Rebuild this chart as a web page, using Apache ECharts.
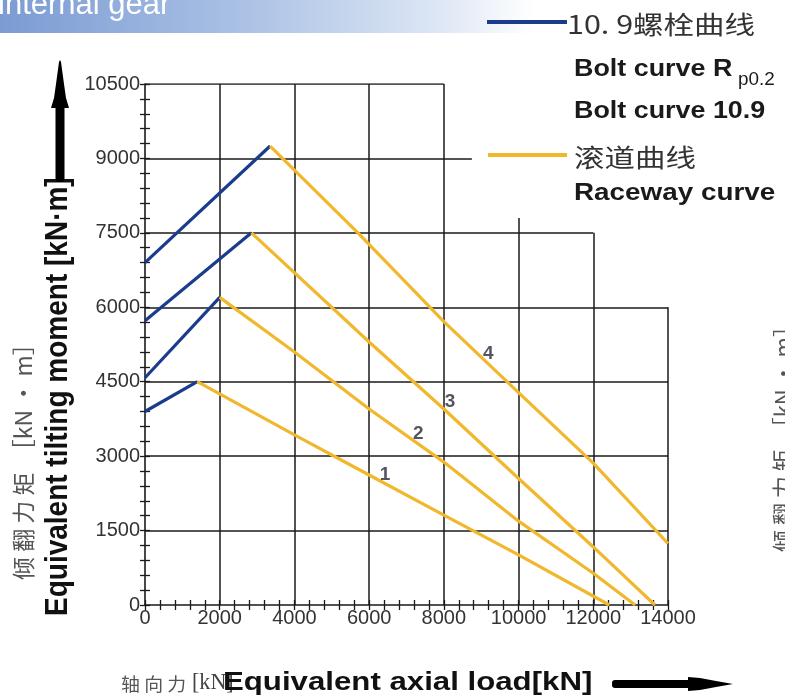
<!DOCTYPE html>
<html><head><meta charset="utf-8">
<script src="https://cdn.jsdelivr.net/npm/echarts@6/dist/echarts.min.js"></script>
<style>html,body{margin:0;padding:0;background:#fff;} #c{width:785px;height:697px;}</style>
</head><body><div id="c"></div>
<script>
// ---- data ----
const boltCurve1 = [[0, 3900], [1400, 4500]];
const boltCurve2 = [[0, 4580], [2000, 6200]];
const boltCurve3 = [[0, 5730], [2850, 7500]];
const boltCurve4 = [[0, 6900], [3350, 9250]];
const racewayCurve1 = [[1400, 4500], [4000, 3430], [6000, 2620], [8000, 1810], [10000, 1010], [12430, 0]];
const racewayCurve2 = [[2000, 6200], [4000, 5100], [6000, 3950], [8000, 2880], [10000, 1690], [12000, 640], [13120, 0]];
const racewayCurve3 = [[2850, 7500], [6000, 5300], [8000, 3950], [10000, 2550], [12000, 1170], [13650, 0]];
const racewayCurve4 = [[3350, 9250], [5700, 7500], [8000, 5710], [10000, 4280], [12000, 2860], [14000, 1240]];
const curveNumbers = [[6424, 2620, '1'], [7317, 3460, '2'], [8165, 4097, '3'], [9190, 5060, '4']];
// grid segments: horizontal [y, xEnd], vertical [x, yEnd]
const hGridLines = [[1500, 14000], [3000, 14000], [4500, 14000], [6000, 14000], [7500, 12000], [9000, 8750], [10500, 8000]];
const vGridLines = [[2000, 10500], [4000, 10500], [6000, 10500], [8000, 10500], [10000, 7800], [12000, 7500], [14000, 6000]];
const xMin = 0, xMax = 14000, xStep = 2000;
const yMin = 0, yMax = 10500, yStep = 1500;

const legendBolt = '10. 9螺栓曲线';
const legendBoltEn1 = 'Bolt curve R';
const legendBoltSub = 'p0.2';
const legendBoltEn2 = 'Bolt curve 10.9';
const legendRace = '滚道曲线';
const legendRaceEn = 'Raceway curve';
const yTitleCn = '倾 翻 力 矩  ［kN • m］';
const yTitleEn = 'Equivalent tilting moment [kN·m]';
const xTitleCn = '轴 向 力';
const xTitleUnit = '[kN]';
const xTitleEn = 'Equivalent axial load[kN]';
const headerText = 'internal gear';

// ---- styles ----
const BLUE = '#1b3b8c';
const YELLOW = '#f1b82d';
const INK = '#1a1a1a';
const LABEL = '#333';
const SANS = '"Liberation Sans", Arial, sans-serif';
const CJK = '"Noto Sans CJK SC", sans-serif';
const SERIF = '"Liberation Serif", serif';

const gridSegs = [];
hGridLines.forEach(([y, xe]) => gridSegs.push({ coords: [[xMin, y], [xe, y]] }));
vGridLines.forEach(([x, ye]) => gridSegs.push({ coords: [[x, yMin], [x, ye]] }));

function curve(name, data, color) {
  return { name, type: 'line', data, xAxisIndex: 0, yAxisIndex: 0, symbol: 'none', showSymbol: false,
    lineStyle: { color, width: 3.2 }, itemStyle: { color }, z: 5, silent: true };
}

const tickStyle = { color: INK, width: 1.3 };
const plain = v => String(v);
function xAxisCfg(inside, main) {
  return { type: 'value', min: xMin, max: xMax, interval: xStep, position: 'bottom',
    axisLine: { show: main, onZero: false, lineStyle: { color: INK, width: 1.6 } },
    axisTick: { show: true, inside, length: 5, lineStyle: tickStyle },
    minorTick: { show: true, splitNumber: 5, length: 5, lineStyle: tickStyle },
    splitLine: { show: false }, minorSplitLine: { show: false },
    axisLabel: { show: main, margin: 3, formatter: plain, fontFamily: SANS, fontSize: 20, color: LABEL } };
}
function yAxisCfg(inside, main) {
  return { type: 'value', min: yMin, max: yMax, interval: yStep, position: 'left',
    axisLine: { show: main, onZero: false, lineStyle: { color: INK, width: 1.6 } },
    axisTick: { show: true, inside, length: 5, lineStyle: tickStyle },
    minorTick: { show: true, splitNumber: 5, length: 5, lineStyle: tickStyle },
    splitLine: { show: false }, minorSplitLine: { show: false },
    axisLabel: { show: main, margin: 5, formatter: plain, fontFamily: SANS, fontSize: 20, color: LABEL } };
}

const chart = echarts.init(document.getElementById('c'), null, { renderer: 'canvas' });
chart.setOption({
  animation: false,
  backgroundColor: '#fff',
  grid: { left: 145, right: 117, top: 84, bottom: 92 },
  xAxis: [xAxisCfg(false, true), xAxisCfg(true, false)],
  yAxis: [yAxisCfg(false, true), yAxisCfg(true, false)],
  series: [
    { name: 'grid', type: 'lines', coordinateSystem: 'cartesian2d', xAxisIndex: 0, yAxisIndex: 0,
      data: gridSegs, lineStyle: { color: INK, width: 1.5, opacity: 1 }, silent: true, z: 1 },
    curve('Bolt 1', boltCurve1, BLUE),
    curve('Bolt 2', boltCurve2, BLUE),
    curve('Bolt 3', boltCurve3, BLUE),
    curve('Bolt 4', boltCurve4, BLUE),
    curve('Raceway 1', racewayCurve1, YELLOW),
    curve('Raceway 2', racewayCurve2, YELLOW),
    curve('Raceway 3', racewayCurve3, YELLOW),
    curve('Raceway 4', racewayCurve4, YELLOW),
    { name: 'numbers', type: 'scatter', data: curveNumbers, symbolSize: 1, itemStyle: { color: 'rgba(0,0,0,0)' }, z: 6,
      label: { show: true, position: 'inside', formatter: p => p.value[2], fontFamily: SANS, fontSize: 19,
        fontWeight: 'bold', color: '#2a2a3a' }, silent: true }
  ],
  graphic: [
    // header band
    { type: 'rect', x: 0, y: 0, shape: { width: 785, height: 33 }, z: 0,
      style: { fill: new echarts.graphic.LinearGradient(0, 0, 1, 0, [
        { offset: 0, color: '#7b9bd3' }, { offset: 0.3, color: '#a9c0e4' },
        { offset: 0.55, color: '#dbe5f4' }, { offset: 0.68, color: '#ffffff' }, { offset: 1, color: '#ffffff' }]) } },
    { type: 'text', x: -2, y: 21, z: 1,
      style: { text: headerText, fontFamily: SANS, fontSize: 31, fill: '#ffffff', align: 'left', verticalAlign: 'bottom' } },
    // legend
    { type: 'line', shape: { x1: 487, y1: 22, x2: 567, y2: 22 }, style: { stroke: BLUE, lineWidth: 4 } },
    { type: 'text', x: 567, y: 24, scaleX: 1.22,
      style: { text: legendBolt, fontFamily: CJK, fontSize: 25, fill: '#333', align: 'left', verticalAlign: 'middle' } },
    { type: 'text', x: 574, y: 69, scaleX: 1.12,
      style: { text: legendBoltEn1, fontFamily: SANS, fontWeight: 'bold', fontSize: 24, fill: '#1a1a1a', align: 'left', verticalAlign: 'middle' } },
    { type: 'text', x: 738, y: 80, scaleX: 1.05,
      style: { text: legendBoltSub, fontFamily: SANS, fontSize: 18, fill: '#1a1a1a', align: 'left', verticalAlign: 'middle' } },
    { type: 'text', x: 574, y: 111, scaleX: 1.12,
      style: { text: legendBoltEn2, fontFamily: SANS, fontWeight: 'bold', fontSize: 24, fill: '#1a1a1a', align: 'left', verticalAlign: 'middle' } },
    { type: 'line', shape: { x1: 488, y1: 155, x2: 567, y2: 155 }, style: { stroke: YELLOW, lineWidth: 4 } },
    { type: 'text', x: 574, y: 157, scaleX: 1.22,
      style: { text: legendRace, fontFamily: CJK, fontSize: 25, fill: '#333', align: 'left', verticalAlign: 'middle' } },
    { type: 'text', x: 574, y: 193, scaleX: 1.16,
      style: { text: legendRaceEn, fontFamily: SANS, fontWeight: 'bold', fontSize: 24, fill: '#1a1a1a', align: 'left', verticalAlign: 'middle' } },
    // y-axis titles
    { type: 'text', x: 23, y: 580, rotation: Math.PI / 2,
      style: { text: yTitleCn, fontFamily: CJK, fontSize: 23, fill: '#555', align: 'left', verticalAlign: 'middle' } },
    { type: 'group', x: 58, y: 616, scaleX: 1.12, children: [
      { type: 'text', x: 0, y: 0, rotation: Math.PI / 2,
        style: { text: yTitleEn, fontFamily: SANS, fontWeight: 'bold', fontSize: 28, fill: '#111', align: 'left', verticalAlign: 'middle' } }
    ] },
    // vertical arrow
    { type: 'rect', shape: { x: 55.5, y: 104, width: 9, height: 78, r: [0, 0, 3, 3] }, style: { fill: '#000' } },
    { type: 'polygon', shape: { points: [[51, 108], [69, 108], [66, 98], [64, 84], [61, 62], [60, 60], [59, 62], [56, 84], [54, 98]] }, style: { fill: '#000' } },
    // x-axis titles
    { type: 'text', x: 121, y: 684, scaleX: 1.05,
      style: { text: xTitleCn, fontFamily: CJK, fontSize: 18, fill: '#555', align: 'left', verticalAlign: 'middle' } },
    { type: 'text', x: 192, y: 683, scaleX: 0.92,
      style: { text: xTitleUnit, fontFamily: SERIF, fontSize: 24, fill: '#444', align: 'left', verticalAlign: 'middle' } },
    { type: 'text', x: 223, y: 683, scaleX: 1.2,
      style: { text: xTitleEn, fontFamily: SANS, fontWeight: 'bold', fontSize: 26, fill: '#111', align: 'left', verticalAlign: 'middle' } },
    // horizontal arrow
    { type: 'rect', shape: { x: 612, y: 680, width: 78, height: 8, r: [3, 0, 0, 3] }, style: { fill: '#000' } },
    { type: 'polygon', shape: { points: [[688, 677], [700, 678], [716, 681], [733, 684], [716, 687], [700, 690], [688, 691]] }, style: { fill: '#000' } },
    // partial title of neighbouring chart at right edge
    { type: 'text', x: 783, y: 552, rotation: Math.PI / 2,
      style: { text: yTitleCn, fontFamily: CJK, fontSize: 22, fill: '#555', align: 'left', verticalAlign: 'middle' } }
  ]
});
</script></body></html>
